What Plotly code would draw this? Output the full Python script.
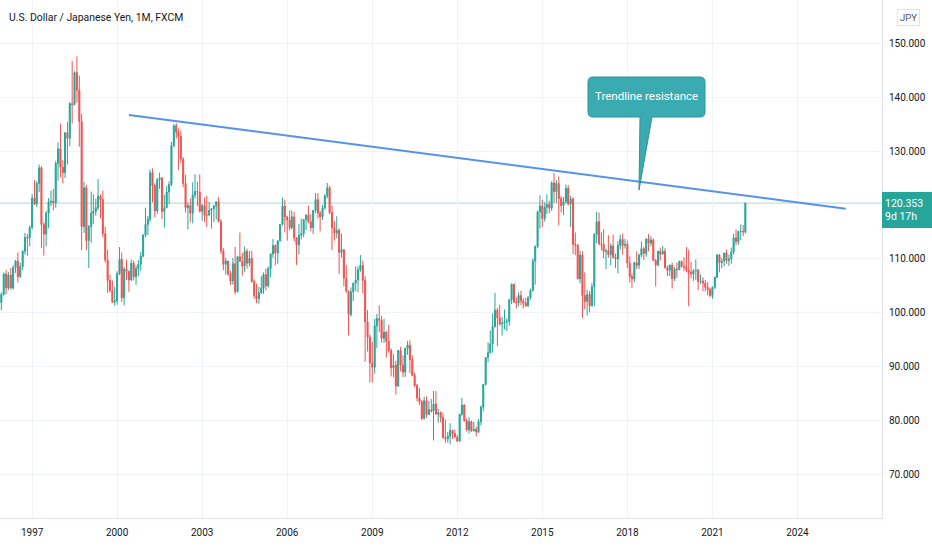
import pandas as pd
import plotly.graph_objects as go

# ---------------- data: USD/JPY monthly OHLC, Nov 1995 .. Mar 2022 ----------------
start_month = "1995-11-01"

opens = [
    101.9, 101.9,                                                                      # 1995 Nov-Dec
    103.4, 107.2, 104.6, 107.0, 104.6, 108.4, 109.6, 106.7, 108.6, 111.4, 114.0, 113.9,  # 1996
    115.8, 121.3, 120.2, 124.0, 126.9, 116.4, 114.6, 118.5, 120.6, 120.7, 120.4, 127.7,  # 1997
    130.4, 127.0, 126.0, 133.4, 132.4, 138.8, 138.6, 144.6, 141.3, 135.5, 116.0, 123.2,  # 1998
    113.4, 116.0, 118.5, 118.8, 119.5, 121.6, 121.0, 114.7, 109.8, 106.0, 104.1, 102.0,  # 1999
    102.2, 107.3, 109.9, 102.8, 108.1, 107.7, 106.1, 109.2, 106.7, 108.2, 109.0, 110.5,  # 2000
    114.4, 116.4, 117.4, 126.0, 123.6, 118.9, 124.7, 125.0, 118.8, 119.5, 122.4, 123.8,  # 2001
    131.0, 134.7, 133.5, 132.7, 128.5, 124.0, 119.5, 119.9, 118.5, 121.8, 122.5, 122.4,  # 2002
    118.8, 119.9, 118.1, 118.1, 119.0, 119.3, 119.8, 120.6, 116.9, 111.5, 109.0, 109.6,  # 2003
    107.2, 105.9, 109.1, 103.9, 110.4, 109.5, 108.7, 111.4, 109.2, 110.1, 105.8, 103.2,  # 2004
    102.6, 103.7, 104.6, 107.1, 105.0, 108.2, 110.9, 112.5, 111.1, 113.3, 116.4, 119.8,  # 2005
    117.8, 117.2, 115.8, 117.8, 113.9, 112.6, 114.4, 114.7, 117.3, 118.1, 116.9, 115.8,  # 2006
    119.0, 121.0, 118.5, 117.8, 119.5, 121.7, 123.2, 118.6, 115.8, 114.8, 115.3, 111.2,  # 2007
    111.7, 106.4, 104.0, 99.7, 103.9, 105.5, 106.1, 108.0, 108.8, 106.0, 98.3, 95.5,     # 2008
    90.7, 89.9, 97.6, 98.9, 98.6, 95.3, 96.4, 94.7, 93.0, 89.8, 90.3, 86.4,              # 2009
    93.0, 90.3, 89.0, 93.4, 94.0, 91.3, 88.4, 86.5, 84.2, 83.5, 80.4, 83.7,              # 2010
    81.1, 82.0, 81.8, 83.1, 81.2, 81.5, 80.6, 76.8, 76.6, 77.1, 78.2, 77.6,              # 2011
    76.9, 76.2, 81.2, 82.9, 80.0, 78.3, 79.8, 78.1, 78.4, 77.9, 79.8, 82.5,              # 2012
    86.7, 91.7, 92.6, 94.2, 97.4, 100.5, 99.1, 97.9, 98.1, 98.3, 98.4, 102.4,            # 2013
    105.3, 102.0, 101.8, 103.2, 102.2, 101.8, 101.3, 102.8, 104.1, 109.6, 112.3, 118.7,  # 2014
    119.8, 117.5, 119.6, 120.1, 119.4, 124.1, 122.5, 124.0, 121.2, 119.9, 120.6, 123.1,  # 2015
    120.2, 121.1, 112.7, 112.6, 106.3, 110.7, 103.2, 102.1, 103.4, 101.3, 104.8, 114.5,  # 2016
    116.9, 112.8, 112.7, 111.4, 111.5, 110.8, 112.4, 110.3, 110.0, 112.5, 113.6, 112.5,  # 2017
    112.7, 109.2, 106.7, 106.3, 109.3, 108.8, 110.7, 111.9, 111.0, 113.7, 112.9, 113.5,  # 2018
    109.7, 108.9, 111.4, 110.9, 111.4, 108.3, 107.9, 108.8, 106.3, 108.1, 108.0, 109.5,  # 2019
    108.6, 108.4, 107.9, 107.5, 107.2, 107.8, 107.9, 105.8, 105.9, 105.5, 104.7, 104.3,  # 2020
    103.2, 104.7, 106.6, 110.7, 109.3, 109.6, 111.1, 109.7, 110.0, 111.3, 113.9, 113.2,  # 2021
    115.1, 115.1, 115.0,                                                                 # 2022 Jan-Mar
]

highs = [
    102.4, 103.8,
    107.5, 107.9, 107.6, 108.3, 108.8, 109.8, 111.2, 109.3, 111.6, 114.8, 114.6, 116.2,
    122.0, 124.6, 124.4, 127.5, 127.2, 116.8, 118.9, 121.3, 122.7, 123.0, 128.2, 131.6,
    135.1, 128.3, 133.5, 135.4, 139.1, 146.7, 144.8, 147.6, 144.0, 136.9, 124.3, 123.7,
    116.3, 122.5, 122.0, 121.2, 124.8, 122.0, 122.7, 116.0, 111.7, 107.1, 106.0, 104.8,
    107.7, 112.2, 111.2, 108.5, 109.8, 107.8, 109.9, 109.7, 108.8, 109.8, 111.3, 114.6,
    119.5, 118.0, 126.6, 126.8, 124.0, 125.0, 126.0, 125.2, 121.9, 123.5, 124.4, 131.7,
    135.0, 135.2, 134.2, 133.8, 128.9, 125.6, 120.5, 121.2, 124.2, 125.7, 124.3, 125.7,
    120.2, 121.4, 121.7, 120.6, 119.4, 120.0, 120.6, 121.5, 117.4, 112.0, 110.2, 109.7,
    107.8, 110.2, 112.2, 110.6, 114.9, 111.1, 112.3, 111.9, 111.5, 111.5, 106.2, 105.4,
    104.8, 106.8, 107.5, 108.2, 108.6, 111.0, 113.7, 112.7, 113.5, 116.4, 121.4, 121.0,
    118.0, 119.0, 119.0, 118.7, 114.0, 116.5, 117.5, 117.4, 118.3, 119.9, 118.3, 119.1,
    122.2, 122.2, 118.9, 120.0, 122.0, 124.1, 123.6, 119.8, 117.0, 117.9, 115.7, 114.7,
    111.8, 108.8, 104.2, 104.7, 105.6, 108.6, 108.6, 110.7, 109.7, 106.8, 100.5, 96.0,
    94.6, 98.9, 99.8, 101.4, 99.4, 98.9, 96.6, 97.8, 93.4, 92.3, 91.1, 93.1,
    93.7, 92.1, 93.5, 94.8, 94.9, 92.1, 88.9, 86.8, 86.0, 83.8, 84.4, 84.5,
    83.7, 84.0, 85.5, 85.5, 82.2, 81.7, 81.5, 80.2, 77.9, 79.5, 78.3, 78.3,
    77.3, 81.2, 84.2, 83.0, 80.4, 80.6, 80.0, 79.8, 78.9, 80.3, 82.8, 86.8,
    91.8, 94.5, 96.7, 99.9, 103.7, 100.9, 101.5, 99.2, 100.6, 99.0, 102.6, 105.4,
    105.4, 102.8, 103.8, 104.1, 102.7, 102.8, 103.1, 104.5, 110.1, 112.5, 119.0, 121.8,
    121.0, 120.5, 122.0, 120.8, 124.4, 125.9, 124.6, 125.3, 121.7, 121.5, 123.8, 123.7,
    121.7, 121.5, 114.9, 112.7, 111.5, 111.4, 107.5, 104.3, 104.0, 105.5, 114.8, 118.7,
    118.6, 114.9, 115.5, 111.9, 114.4, 112.9, 114.5, 111.0, 113.3, 114.5, 114.7, 113.7,
    113.4, 110.5, 107.3, 109.5, 111.4, 111.0, 113.2, 112.2, 113.8, 114.6, 114.2, 113.8,
    110.0, 111.5, 112.1, 112.4, 112.0, 108.8, 109.0, 109.3, 108.5, 109.3, 109.7, 109.7,
    110.3, 112.2, 111.7, 109.4, 108.1, 109.9, 108.2, 107.1, 106.6, 106.1, 105.7, 104.7,
    104.9, 106.7, 110.9, 110.9, 110.2, 111.1, 111.7, 110.8, 112.1, 114.7, 115.5, 115.2,
    116.4, 116.3, 120.4,
]

lows = [
    99.7, 100.5,
    103.2, 103.5, 104.2, 104.4, 104.3, 107.4, 105.6, 106.5, 107.9, 110.8, 110.6, 112.3,
    115.5, 120.0, 119.6, 122.4, 112.0, 110.6, 112.3, 115.7, 119.8, 119.0, 119.5, 124.5,
    125.1, 124.0, 125.0, 127.5, 130.9, 135.1, 138.5, 139.0, 130.8, 111.6, 114.8, 111.6,
    108.3, 113.0, 116.5, 118.0, 119.0, 117.5, 114.0, 109.3, 103.7, 103.8, 101.8, 101.3,
    101.5, 107.0, 102.0, 101.4, 106.1, 103.9, 105.9, 106.0, 105.2, 106.8, 107.8, 110.3,
    114.0, 114.4, 116.9, 120.5, 117.7, 118.4, 123.0, 117.4, 115.8, 119.4, 120.2, 123.5,
    130.7, 132.3, 126.5, 127.8, 123.3, 118.6, 115.5, 116.8, 116.6, 121.2, 119.8, 118.6,
    117.1, 116.8, 115.9, 118.0, 115.6, 116.8, 117.3, 116.9, 110.9, 107.9, 107.1, 106.8,
    105.2, 105.2, 103.4, 103.8, 109.5, 106.9, 107.6, 108.2, 108.6, 105.6, 102.6, 101.8,
    101.7, 103.5, 103.5, 104.2, 104.7, 106.6, 110.2, 108.8, 109.1, 113.3, 116.2, 114.9,
    113.4, 115.3, 115.5, 113.2, 108.9, 110.8, 113.6, 114.0, 115.3, 116.6, 115.1, 114.6,
    118.5, 117.5, 115.1, 117.2, 119.1, 121.2, 118.3, 111.6, 113.4, 113.8, 107.2, 110.2,
    104.9, 103.7, 95.8, 99.3, 102.2, 104.0, 103.8, 107.6, 103.6, 90.9, 92.8, 87.1,
    87.1, 88.7, 93.5, 96.4, 94.5, 94.4, 91.7, 92.6, 88.2, 88.0, 84.8, 86.3,
    89.1, 88.1, 88.1, 92.2, 88.8, 88.2, 86.2, 83.6, 82.9, 80.1, 80.2, 80.5,
    81.0, 81.5, 76.3, 81.1, 79.6, 79.7, 76.9, 75.9, 75.9, 75.6, 76.6, 76.9,
    76.0, 76.1, 80.9, 79.8, 78.0, 77.6, 77.9, 78.0, 77.1, 77.7, 79.1, 81.7,
    86.5, 90.8, 92.5, 92.6, 97.3, 93.8, 97.6, 95.8, 96.9, 96.6, 97.6, 101.6,
    101.8, 100.8, 101.2, 101.4, 100.8, 101.1, 101.1, 102.4, 104.0, 105.2, 112.0, 115.6,
    115.9, 116.9, 118.3, 118.5, 118.9, 120.4, 120.4, 116.2, 118.6, 118.1, 120.3, 119.9,
    115.9, 110.9, 110.7, 106.2, 105.5, 99.0, 100.7, 99.5, 100.1, 101.2, 101.2, 112.9,
    112.5, 111.6, 110.1, 108.1, 110.2, 108.8, 110.1, 108.3, 107.3, 111.7, 110.8, 111.9,
    108.3, 105.6, 104.6, 105.7, 108.1, 108.1, 110.3, 109.8, 110.4, 111.4, 112.3, 109.6,
    104.9, 108.6, 109.7, 110.8, 108.3, 106.8, 106.8, 104.5, 105.9, 106.5, 107.9, 108.4,
    107.7, 107.5, 101.2, 106.4, 105.9, 106.1, 104.2, 105.3, 104.0, 104.0, 103.2, 102.9,
    102.6, 104.4, 106.4, 107.5, 108.3, 108.6, 109.1, 108.7, 109.1, 110.8, 112.5, 112.6,
    113.5, 114.2, 114.7,
]

closes = [
    101.9, 103.4,
    107.2, 104.6, 107.0, 104.6, 108.4, 109.6, 106.7, 108.6, 111.4, 114.0, 113.9, 115.8,
    121.3, 120.2, 124.0, 126.9, 116.4, 114.6, 118.5, 120.6, 120.7, 120.4, 127.7, 130.4,
    127.0, 126.0, 133.4, 132.4, 138.8, 138.6, 144.6, 141.3, 135.5, 116.0, 123.2, 113.4,
    116.0, 118.5, 118.8, 119.5, 121.6, 121.0, 114.7, 109.8, 106.0, 104.1, 102.0, 102.2,
    107.3, 109.9, 102.8, 108.1, 107.7, 106.1, 109.2, 106.7, 108.2, 109.0, 110.5, 114.4,
    116.4, 117.4, 126.0, 123.6, 118.9, 124.7, 125.0, 118.8, 119.5, 122.4, 123.8, 131.0,
    134.7, 133.5, 132.7, 128.5, 124.0, 119.5, 119.9, 118.5, 121.8, 122.5, 122.4, 118.8,
    119.9, 118.1, 118.1, 119.0, 119.3, 119.8, 120.6, 116.9, 111.5, 109.0, 109.6, 107.2,
    105.9, 109.1, 103.9, 110.4, 109.5, 108.7, 111.4, 109.2, 110.1, 105.8, 103.2, 102.6,
    103.7, 104.6, 107.1, 105.0, 108.2, 110.9, 112.5, 111.1, 113.3, 116.4, 119.8, 117.8,
    117.2, 115.8, 117.8, 113.9, 112.6, 114.4, 114.7, 117.3, 118.1, 116.9, 115.8, 119.0,
    121.0, 118.5, 117.8, 119.5, 121.7, 123.2, 118.6, 115.8, 114.8, 115.3, 111.2, 111.7,
    106.4, 104.0, 99.7, 103.9, 105.5, 106.1, 108.0, 108.8, 106.0, 98.3, 95.5, 90.7,
    89.9, 97.6, 98.9, 98.6, 95.3, 96.4, 94.7, 93.0, 89.8, 90.3, 86.4, 93.0,
    90.3, 89.0, 93.4, 94.0, 91.3, 88.4, 86.5, 84.2, 83.5, 80.4, 83.7, 81.1,
    82.0, 81.8, 83.1, 81.2, 81.5, 80.6, 76.8, 76.6, 77.1, 78.2, 77.6, 76.9,
    76.2, 81.2, 82.9, 80.0, 78.3, 79.8, 78.1, 78.4, 77.9, 79.8, 82.5, 86.7,
    91.7, 92.6, 94.2, 97.4, 100.5, 99.1, 97.9, 98.1, 98.3, 98.4, 102.4, 105.3,
    102.0, 101.8, 103.2, 102.2, 101.8, 101.3, 102.8, 104.1, 109.6, 112.3, 118.7, 119.8,
    117.5, 119.6, 120.1, 119.4, 124.1, 122.5, 124.0, 121.2, 119.9, 120.6, 123.1, 120.2,
    121.1, 112.7, 112.6, 106.3, 110.7, 103.2, 102.1, 103.4, 101.3, 104.8, 114.5, 116.9,
    112.8, 112.7, 111.4, 111.5, 110.8, 112.4, 110.3, 110.0, 112.5, 113.6, 112.5, 112.7,
    109.2, 106.7, 106.3, 109.3, 108.8, 110.7, 111.9, 111.0, 113.7, 112.9, 113.5, 109.7,
    108.9, 111.4, 110.9, 111.4, 108.3, 107.9, 108.8, 106.3, 108.1, 108.0, 109.5, 108.6,
    108.4, 107.9, 107.5, 107.2, 107.8, 107.9, 105.8, 105.9, 105.5, 104.7, 104.3, 103.2,
    104.7, 106.6, 110.7, 109.3, 109.6, 111.1, 109.7, 110.0, 111.3, 113.9, 113.2, 115.1,
    115.1, 115.0, 120.353,
]

# price-scale tick values (120 is hidden behind the last-price label)
price_ticks = [70, 80, 90, 100, 110, 130, 140, 150]

# user-drawn trendline (two anchor points)
trend_dates = ["2000-06-01", "2025-09-15"]
trend_values = [136.7, 119.3]

title_text = "U.S. Dollar / Japanese Yen, 1M, FXCM"
callout_text = "Trendline resistance"
last_price_label = "120.353"
countdown_label = "9d 17h"
currency_label = "JPY"

dates = pd.date_range(start_month, periods=len(closes), freq="MS")

# ---------------- figure ----------------
UP = "#26a69a"
DOWN = "#ef5350"
GRID = "#f0f3fa"
TXT = "#131722"
FONT = "Roboto, Arial, sans-serif"

fig = go.Figure()
fig.add_trace(go.Candlestick(
    x=dates, open=opens, high=highs, low=lows, close=closes,
    increasing=dict(line=dict(color=UP, width=1), fillcolor=UP),
    decreasing=dict(line=dict(color=DOWN, width=1), fillcolor=DOWN),
    whiskerwidth=0, hoverinfo="skip", showlegend=False,
))
fig.add_trace(go.Scatter(
    x=trend_dates, y=trend_values, mode="lines",
    line=dict(color="#5592ea", width=2), hoverinfo="skip", showlegend=False,
))

# plot area in pixels: x 0..882, y 0..518
PW, PH = 882.0, 518.0
def px(x):
    return x / PW
def py(y):
    return 1 - y / PH

# callout bubble (rounded box + wedge) in paper coordinates
L, R, T, B, r = 588, 705, 77, 117, 5
wl, wr, tx, ty = 640, 652, 639, 190
pts = (
    f"M {px(L + r)},{py(T)} L {px(R - r)},{py(T)} Q {px(R)},{py(T)} {px(R)},{py(T + r)} "
    f"L {px(R)},{py(B - r)} Q {px(R)},{py(B)} {px(R - r)},{py(B)} "
    f"L {px(wr)},{py(B)} L {px(tx)},{py(ty)} L {px(wl)},{py(B)} "
    f"L {px(L + r)},{py(B)} Q {px(L)},{py(B)} {px(L)},{py(B - r)} "
    f"L {px(L)},{py(T + r)} Q {px(L)},{py(T)} {px(L + r)},{py(T)} Z"
)
fig.add_shape(type="path", path=pts, xref="paper", yref="paper",
              fillcolor="#3aabb1", line=dict(color="#2a949a", width=1), layer="above")
fig.add_annotation(x=px((L + R) / 2), y=py((T + B) / 2 - 1), xref="paper", yref="paper",
                   xanchor="center", yanchor="middle",
                   text=callout_text, showarrow=False,
                   font=dict(family=FONT, size=11.5, color="white"))

# last price line
fig.add_shape(type="line", xref="paper", yref="y", x0=0, x1=1,
              y0=closes[-1], y1=closes[-1],
              line=dict(color="rgba(38,166,154,0.4)", width=1), layer="below")

# last price label on the price scale
fig.add_annotation(x=1, y=closes[-1], xref="paper", yref="y", xanchor="left", yanchor="top",
                   yshift=11, text=f"{last_price_label}<br>{countdown_label}", showarrow=False,
                   align="left", bgcolor=UP, borderpad=3, borderwidth=0, width=44, height=30,
                   font=dict(family=FONT, size=10.5, color="white"))

# currency box
fig.add_annotation(x=1, y=1, xref="paper", yref="paper", xanchor="left", yanchor="top",
                   xshift=15, yshift=-9, text=currency_label, showarrow=False,
                   bordercolor="#e0e3eb", borderwidth=1, borderpad=2, bgcolor="white",
                   font=dict(family=FONT, size=9.5, color="#50535e"))

# title
fig.add_annotation(x=7 / PW, y=py(17), xref="paper", yref="paper", xanchor="left",
                   yanchor="middle", text=title_text, showarrow=False,
                   font=dict(family=FONT, size=10.4, color=TXT))

fig.update_layout(
    width=932, height=550,
    margin=dict(l=0, r=50, t=0, b=32),
    paper_bgcolor="white", plot_bgcolor="white",
    showlegend=False,
    font=dict(family=FONT, size=10, color=TXT),
    xaxis=dict(
        type="date", range=["1995-11-14", "2026-12-26"],
        rangeslider=dict(visible=False),
        tick0="1997-01-01", dtick="M36", tickformat="%Y",
        showgrid=True, gridcolor=GRID, gridwidth=1,
        showline=True, linecolor="#e0e3eb", linewidth=1,
        ticks="outside", ticklen=5, tickcolor="rgba(255,255,255,0)",
        tickfont=dict(family=FONT, size=10, color=TXT),
        zeroline=False, fixedrange=True,
    ),
    yaxis=dict(
        side="right", range=[61.93, 158.03],
        tickmode="array", tickvals=price_ticks, tickformat=".3f",
        showgrid=True, gridcolor=GRID, gridwidth=1,
        showline=True, linecolor="#e0e3eb", linewidth=1,
        ticks="outside", ticklen=4, tickcolor="rgba(255,255,255,0)",
        tickfont=dict(family=FONT, size=10, color=TXT),
        zeroline=False, fixedrange=True,
    ),
)

fig.write_html("out.html", config={"displayModeBar": False},
               post_script="document.body.style.margin='0';")
